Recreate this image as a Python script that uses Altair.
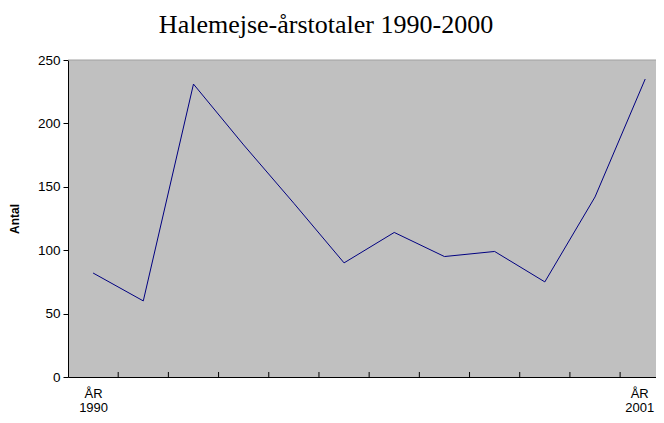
import altair as alt
import pandas as pd

years = [1990, 1991, 1992, 1993, 1994, 1995, 1996, 1997, 1998, 1999, 2000, 2001]
counts = [82, 60, 231, 183, 137, 90, 114, 95, 99, 75, 142, 235]
y_ticks = [0, 50, 100, 150, 200, 250]
labeled_years = [1990, 2001]
title_text = "Halemejse-årstotaler 1990-2000"
y_title = "Antal"

W, H = 588, 317

df = pd.DataFrame({"year": years, "count": counts})
tick_df = pd.DataFrame({"pos": [y + 0.5 for y in years[:-1]]})

xscale = alt.Scale(domain=[1989.5, 2001.215], nice=False, zero=False)

x_axis = alt.Axis(
    values=labeled_years,
    format="d",
    labelExpr="['ÅR', datum.label]",
    labelOffset=alt.condition("datum.value == 2001", alt.value(-6), alt.value(0)),
    ticks=False,
    grid=False,
    domain=True,
    domainColor="black",
    labelColor="black",
    labelFont="Liberation Sans",
    labelFontSize=13,
    labelPadding=10,
    labelLineHeight=14,
    title=None,
    labelFlush=False,
    labelOverlap=False,
)

y_axis = alt.Axis(
    values=y_ticks,
    grid=False,
    domainColor="black",
    tickColor="black",
    tickSize=5,
    labelColor="black",
    labelFont="Liberation Sans",
    labelFontSize=13.5,
    labelPadding=3,
    title=y_title,
    titleFont="Liberation Sans",
    titleFontSize=12,
    titleFontWeight="bold",
    titleColor="black",
    titlePadding=16,
)

line = alt.Chart(df).mark_line(color="#000080", strokeWidth=1).encode(
    x=alt.X("year:Q", scale=xscale, axis=x_axis),
    y=alt.Y("count:Q", scale=alt.Scale(domain=[0, 250], nice=False), axis=y_axis),
)

ticks = alt.Chart(tick_df).mark_rule(color="black", strokeWidth=1).encode(
    x=alt.X("pos:Q", scale=xscale),
    y=alt.value(H - 5),
    y2=alt.value(H),
)

top_border = alt.Chart(tick_df.head(1)).mark_rule(color="#A0A0A0", strokeWidth=1).encode(
    x=alt.value(0),
    x2=alt.value(W),
    y=alt.value(0),
)

chart = alt.layer(top_border, ticks, line).properties(
    width=W,
    height=H,
    padding={"left": 60, "top": 52, "right": 0, "bottom": 38},
    autosize=alt.AutoSizeParams(type="none"),
    title=alt.TitleParams(
        text=title_text,
        font="Liberation Serif",
        fontSize=26,
        fontWeight="normal",
        color="black",
        anchor="middle",
        dx=-36,
        offset=15,
    ),
).configure_view(
    fill="#C0C0C0",
    stroke=None,
)

chart.save("out.html", embed_options={"renderer": "svg", "actions": False})
